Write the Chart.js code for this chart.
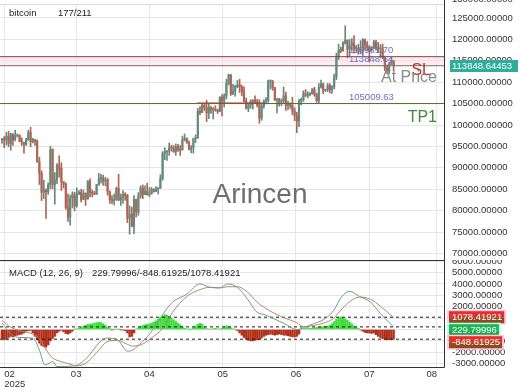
<!DOCTYPE html>
<html>
<head>
<meta charset="utf-8">
<script src="https://cdn.jsdelivr.net/npm/chart.js"></script>
<style>
html, body { margin: 0; padding: 0; background: #fff; overflow: hidden; }
#wrap { position: relative; width: 520px; height: 390px; }
canvas { position: absolute; left: 0; }
#main { top: 0; }
#macd { top: 260px; }
</style>
</head>
<body>
<div id="wrap">
  <canvas id="main" width="520" height="260"></canvas>
  <canvas id="macd" width="520" height="130"></canvas>
</div>
<script>
// daily candles, USD thousands (first candle = index 0)
const opens = [
  96.5, 96.6, 96.5, 97.4, 95.7, 97.8, 96.6, 97.5, 97.6, 96.1,
  95.8, 95.5, 96.6, 98.3, 96.1, 96.6, 96.3, 91.4, 88.7, 84.3,
  84.7, 84.4, 86.0, 94.3, 86.1, 87.2, 90.6, 89.9, 86.7, 86.2,
  80.7, 78.5, 82.9, 83.7, 81.1, 83.9, 84.3, 82.6, 84.1, 82.7,
  86.9, 84.2, 84.0, 83.8, 86.1, 87.5, 87.5, 86.9, 87.2, 84.4,
  82.6, 82.3, 82.5, 85.2, 82.5, 83.1, 83.8, 83.5, 78.2, 79.2,
  76.3, 82.6, 79.6, 83.4, 85.3, 83.7, 84.5, 83.7, 84.0, 84.9,
  84.5, 85.1, 85.2, 87.5, 93.4, 93.7, 93.9, 94.7, 94.6, 93.8,
  95.0, 94.3, 94.2, 96.5, 96.9, 95.9, 94.3, 94.7, 96.8, 97.0,
  103.2, 102.9, 104.6, 104.1, 102.8, 104.1, 103.5, 103.7, 103.5, 103.2,
  106.5, 105.6, 106.8, 109.7, 111.7, 107.3, 107.8, 109.0, 109.4, 108.9,
  107.8, 105.6, 103.9, 104.6, 105.6, 105.8, 105.4, 104.7, 101.6, 104.4,
  105.6, 105.7, 110.3, 110.3, 108.7, 105.9, 106.1, 105.4, 105.6, 106.8,
  104.6, 104.9, 104.6, 103.3, 102.2, 100.9, 105.6, 106.0, 107.3, 106.9,
  107.1, 107.3, 108.4, 107.1, 105.7, 108.8, 109.6, 108.0, 108.2, 109.2,
  108.3, 108.9, 111.3, 115.9, 117.5, 117.4, 119.1, 119.8, 117.7, 118.6,
  119.2, 117.9, 117.9, 117.3, 117.4, 119.9, 118.8, 118.4, 117.6, 117.9,
  119.4, 118.0, 117.8, 117.8, 115.8, 113.3, 112.5, 114.2, 115.0
];
const highs = [
  96.9, 97.3, 98.3, 98.5, 98.1, 98.0, 98.8, 97.9, 97.7, 97.0,
  96.0, 96.9, 98.8, 99.5, 96.9, 96.6, 96.5, 92.5, 89.3, 87.1,
  85.1, 86.5, 95.0, 94.4, 88.9, 91.0, 92.8, 91.2, 86.8, 86.5,
  83.9, 83.6, 84.4, 84.3, 85.3, 84.7, 85.0, 84.8, 84.1, 87.0,
  87.4, 84.8, 84.5, 86.1, 88.7, 88.5, 88.3, 87.8, 87.5, 84.6,
  83.5, 83.9, 85.5, 88.5, 83.9, 84.7, 84.2, 83.8, 81.1, 80.8,
  83.5, 82.7, 84.2, 85.8, 86.0, 85.8, 86.4, 85.4, 85.4, 85.1,
  85.6, 85.3, 88.4, 93.8, 94.7, 94.0, 95.8, 95.3, 95.2, 95.6,
  95.5, 95.2, 97.4, 97.9, 97.0, 96.3, 95.2, 96.9, 97.7, 103.9,
  104.3, 104.9, 104.9, 105.8, 104.9, 104.3, 104.1, 104.5, 103.7, 106.6,
  107.1, 107.3, 110.7, 111.9, 111.8, 109.5, 109.3, 110.4, 110.7, 109.3,
  108.9, 106.3, 104.9, 105.9, 105.9, 106.8, 106.0, 105.9, 105.0, 105.9,
  106.4, 110.5, 110.4, 110.4, 108.8, 106.2, 106.2, 106.1, 108.9, 107.7,
  105.6, 105.2, 106.5, 104.0, 103.0, 106.0, 106.3, 108.0, 108.3, 107.8,
  107.6, 108.5, 108.8, 107.5, 109.7, 110.5, 109.8, 108.4, 109.7, 109.7,
  109.2, 111.9, 116.8, 118.9, 118.2, 119.5, 123.2, 119.9, 120.0, 120.2,
  120.9, 118.6, 118.9, 119.7, 120.2, 120.1, 119.5, 118.5, 118.3, 119.8,
  119.8, 119.3, 118.8, 118.9, 116.1, 114.0, 114.7, 115.7, 115.1
];
const lows = [
  95.7, 94.7, 95.3, 94.9, 94.1, 95.2, 96.3, 97.2, 96.1, 95.2,
  93.4, 95.2, 96.4, 94.9, 95.8, 95.2, 91.3, 86.1, 82.3, 82.8,
  78.2, 83.8, 85.1, 85.1, 81.5, 86.3, 87.8, 84.7, 85.3, 80.3,
  77.5, 76.6, 80.6, 79.9, 80.8, 83.7, 82.0, 82.5, 81.2, 82.7,
  83.2, 83.2, 83.7, 83.8, 85.9, 86.4, 85.9, 85.8, 83.6, 81.7,
  81.6, 81.3, 82.4, 82.3, 81.2, 81.7, 82.4, 77.2, 74.5, 76.2,
  74.6, 78.5, 78.9, 82.9, 82.8, 83.7, 83.6, 83.2, 83.8, 84.3,
  84.4, 83.9, 85.2, 87.1, 91.9, 91.7, 92.9, 93.9, 93.6, 92.9,
  93.8, 92.9, 94.1, 96.3, 95.7, 94.2, 93.5, 93.4, 95.9, 96.9,
  102.4, 102.9, 103.4, 100.8, 101.5, 102.7, 101.4, 103.2, 102.7, 103.1,
  102.1, 104.2, 106.1, 109.3, 106.9, 107.1, 106.7, 108.7, 107.6, 106.8,
  105.4, 103.7, 103.1, 103.9, 103.7, 105.0, 104.2, 100.4, 101.1, 103.9,
  104.9, 105.3, 108.4, 108.1, 105.7, 102.8, 104.4, 104.5, 105.0, 103.4,
  103.6, 103.9, 102.4, 101.0, 98.2, 99.6, 104.7, 105.5, 106.6, 106.3,
  106.8, 107.2, 106.7, 105.3, 105.1, 108.6, 107.3, 107.8, 107.8, 107.5,
  107.4, 108.4, 110.6, 115.3, 116.9, 117.2, 118.9, 115.7, 116.0, 117.5,
  116.8, 117.3, 116.5, 116.6, 116.2, 117.4, 117.3, 114.7, 117.2, 117.9,
  117.5, 116.9, 115.8, 115.5, 112.7, 112.0, 112.0, 114.1, 112.6
];
const closes = [
  96.6, 96.5, 97.4, 95.7, 97.8, 96.6, 97.5, 97.6, 96.1, 95.8,
  95.5, 96.6, 98.3, 96.1, 96.6, 96.3, 91.4, 88.7, 84.3, 84.7,
  84.4, 86.0, 94.3, 86.1, 87.2, 90.6, 89.9, 86.7, 86.2, 80.7,
  78.5, 82.9, 83.7, 81.1, 83.9, 84.3, 82.6, 84.1, 82.7, 86.9,
  84.2, 84.0, 83.8, 86.1, 87.5, 87.5, 86.9, 87.2, 84.4, 82.6,
  82.3, 82.5, 85.2, 82.5, 83.1, 83.8, 83.5, 78.2, 79.2, 76.3,
  82.6, 79.6, 83.4, 85.3, 83.7, 84.5, 83.7, 84.0, 84.9, 84.5,
  85.1, 85.2, 87.5, 93.4, 93.7, 93.9, 94.7, 94.6, 93.8, 95.0,
  94.3, 94.2, 96.5, 96.9, 95.9, 94.3, 94.7, 96.8, 97.0, 103.2,
  102.9, 104.6, 104.1, 102.8, 104.1, 103.5, 103.7, 103.5, 103.2, 106.5,
  105.6, 106.8, 109.7, 111.7, 107.3, 107.8, 109.0, 109.4, 108.9, 107.8,
  105.6, 103.9, 104.6, 105.6, 105.8, 105.4, 104.7, 101.6, 104.4, 105.6,
  105.7, 110.3, 110.3, 108.7, 105.9, 106.1, 105.4, 105.6, 106.8, 104.6,
  104.9, 104.6, 103.3, 102.2, 100.9, 105.6, 106.0, 107.3, 106.9, 107.1,
  107.3, 108.4, 107.1, 105.7, 108.8, 109.6, 108.0, 108.2, 109.2, 108.3,
  108.9, 111.3, 115.9, 117.5, 117.4, 119.1, 119.8, 117.7, 118.6, 119.2,
  117.9, 117.9, 117.3, 117.4, 119.9, 118.8, 118.4, 117.6, 117.9, 119.4,
  118.0, 117.8, 117.8, 115.8, 113.3, 112.5, 114.2, 115.0, 113.85
];

// MACD(12,26,9) lines, read at these candle indexes
const macdIdx = [0, 4, 8, 14, 17, 19.5, 22, 23, 25, 28.5, 32, 34, 38.5, 44.5, 47.5, 52.5, 57, 59.5, 62.5, 67.5,
  73, 77.5, 84, 90, 94.5, 99, 102.5, 107, 111.5, 116, 119.5, 124, 128.5, 134, 137, 141.5, 146, 150.5, 154.5, 158,
  162.5, 167.5, 172, 176.5, 178];
const macdVals = [600, -400, -700, -750, -1800, -3100, -2900, -2800, -3250, -3250, -3200, -3150, -2500, -1100, -750, -900, -1900, -1800, -1300, -300,
  1300, 2400, 3100, 4000, 3700, 3650, 4000, 3700, 2700, 1500, 1300, 900, 500, 0, 150, 500, 850, 1600, 2900, 3350,
  2900, 2400, 1400, 500, 229.79996];
const signalVals = [800, 200, -100, -400, -800, -1600, -2300, -2500, -2700, -2900, -3100, -3200, -2900, -1700, -1100, -950, -1300, -1450, -1400, -800,
  100, 1500, 2900, 3500, 3700, 3650, 3750, 3750, 3300, 2400, 1900, 1400, 1000, 600, 250, 350, 550, 950, 1800, 2450,
  2850, 2650, 2050, 1300, 1078.41921];
// histogram, one per candle
const histVals = [
  -800, -900, -850, -700, -600, -650, -550, -500, -450, -400, -300,
  -150, -100, -80,
  -300, -600, -900, -1200, -1400, -1500, -1550, -1350, -1000, -800, -600,
  -300, -150, -60,
  -200, -350, -400, -300, -150,
  20,
  50, 100, 200, 300, 350, 450, 450, 500, 550, 600, 650, 600, 500, 350, 200, 80,
  -20, 20, 30, 10, -20, -40, -100,
  -300, -650, -600, -300,
  50, 150, 250, 350, 400, 450, 500, 550, 650, 750, 900, 1050, 1200, 1300, 1250, 1150, 1000, 850, 700, 550, 400, 250, 100,
  30, 10, 20,
  150, 300, 450, 550, 450, 250,
  80, 40, 20, 60, 100, 50, 30, 100, 200, 330, 250, 150, 60, 10,
  -100, -300, -500, -700, -850, -950, -1000, -1000, -950, -900, -850, -750,
  -600, -500, -450, -400, -450, -500, -450, -400, -450, -500, -500, -550, -600, -650, -650, -600, -400,
  30, 80, 100, 80, 100,
  120, 150, 180, 200, 220, 250, 280, 300, 350, 500, 700, 900, 1050, 1100, 1050, 950, 800, 650, 500, 300, 200, 100,
  -50, -150, -250, -300, -300, -350, -300, -450, -600, -700, -800, -850, -900, -900, -880, -848.61925
];

const monthTicks = [1.0, 33.7, 67, 100.3, 133.6, 166.9, 197.7];
const monthLabels = [['02', '2025'], '03', '04', '05', '06', '07', '08'];
const priceTicks = [70000, 75000, 80000, 85000, 90000, 95000, 100000, 105000, 110000, 115000, 120000, 125000];
const macdTicks = [-3000, -2000, -1000, 0, 1000, 2000, 3000, 4000, 5000, 6000];

const slPrice = 115961.70;
const atPrice = 113848.64453;
const tp1Price = 105009.63;
const redLevel = 105150;
const redFrom = 88.7, redTo = 119.5;
const macdLast = 229.79996, histLast = -848.61925, signalLast = 1078.41921;

const xMin = -0.9, xMax = 200.9;
const FONT = '"Liberation Sans", Arial, sans-serif';
const upColor = '#648a80';
const downColor = '#ad6555';

Chart.defaults.font.family = FONT;
Chart.defaults.font.size = 9.5;
Chart.defaults.color = '#333';

const candleCol = closes.map((c, i) => c >= opens[i] ? upColor : downColor);

function hLine(y, color, extra) {
  return Object.assign({
    type: 'line',
    data: [{ x: xMin, y: y }, { x: xMax, y: y }],
    borderColor: color, borderWidth: 1, pointRadius: 0, fill: false
  }, extra || {});
}

function monthAxis(showLabels) {
  return {
    type: 'linear', min: xMin, max: xMax, offset: false,
    grid: { color: '#e7e7e7', drawTicks: false, offset: false },
    border: { display: false },
    ticks: {
      display: showLabels, align: 'inner', maxRotation: 0, autoSkip: false, padding: 3,
      font: { size: 9.5, lineHeight: 1 }, color: '#333',
      callback: (v, i) => monthLabels[i]
    },
    afterBuildTicks: s => { s.ticks = monthTicks.map(v => ({ value: v })); },
    afterFit: s => { s.height = showLabels ? 23 : 0; s.paddingLeft = 0; s.paddingRight = 0; }
  };
}

function valueAxis(min, max, tickValues) {
  return {
    position: 'right', min: min, max: max, beginAtZero: false,
    grid: { color: '#e6e6e6', drawTicks: false },
    border: { display: false },
    ticks: { padding: 8, color: '#333', autoSkip: false, callback: v => v.toFixed(5) },
    afterBuildTicks: s => { s.ticks = tickValues.map(v => ({ value: v })); },
    afterFit: s => { s.width = 76; s.paddingTop = 0; s.paddingBottom = 0; }
  };
}

const mainOverlay = {
  id: 'mainOverlay',
  beforeDatasetsDraw(chart) {
    const ctx = chart.ctx;
    ctx.save();
    ctx.strokeStyle = '#dcdcdc';
    ctx.beginPath(); ctx.moveTo(0, 4.5); ctx.lineTo(444, 4.5); ctx.stroke();
    ctx.font = '28px ' + FONT;
    ctx.fillStyle = '#6e6e6e';
    ctx.textAlign = 'center'; ctx.textBaseline = 'alphabetic';
    ctx.fillText('Arincen', 260, 203);
    ctx.restore();
  },
  afterDraw(chart) {
    const ctx = chart.ctx, y = chart.scales.y;
    const slY = y.getPixelForValue(slPrice), atY = y.getPixelForValue(atPrice), tpY = y.getPixelForValue(tp1Price);
    ctx.save();
    ctx.strokeStyle = '#333';
    ctx.beginPath(); ctx.moveTo(444.5, 0); ctx.lineTo(444.5, 260); ctx.stroke();

    ctx.font = '9.5px ' + FONT;
    ctx.fillStyle = '#222'; ctx.textAlign = 'left'; ctx.textBaseline = 'middle';
    ctx.fillText('bitcoin', 9, 13);
    ctx.fillText('177/211', 58, 13);
    ctx.fillStyle = '#333';
    ctx.fillText('130000.00000', 452, -0.5);

    ctx.fillStyle = '#6f6fc9';
    ctx.fillText(slPrice.toFixed(2), 349, slY - 6.5);
    ctx.fillText(atPrice.toFixed(2), 349, atY - 6.5);
    ctx.fillText(tp1Price.toFixed(2), 349, tpY - 6.5);

    ctx.font = '16px ' + FONT;
    ctx.textAlign = 'right'; ctx.textBaseline = 'alphabetic';
    ctx.fillStyle = '#b3372b'; ctx.fillText('SL', 431, slY + 18.3);
    ctx.fillStyle = '#8a8a8a'; ctx.fillText('At Price', 437, atY + 16.7);
    ctx.fillStyle = '#3d8c3d'; ctx.fillText('TP1', 437, tpY + 18.8);

    ctx.fillStyle = '#2eae98';
    ctx.fillRect(450, Math.round(atY) - 6, 68, 12);
    ctx.font = '9.5px ' + FONT;
    ctx.fillStyle = '#fff'; ctx.textAlign = 'left'; ctx.textBaseline = 'middle';
    ctx.fillText(atPrice.toFixed(5), 452, Math.round(atY) + 0.5);
    ctx.restore();
  }
};

new Chart(document.getElementById('main'), {
  type: 'bar',
  data: {
    datasets: [
      hLine(slPrice, 'rgba(0,0,0,0)', { fill: { value: atPrice }, backgroundColor: 'rgba(252,220,231,0.5)', borderWidth: 0, order: 20 }),
      {
        data: closes.map((c, i) => ({ x: i, y: [lows[i] * 1000, highs[i] * 1000] })),
        backgroundColor: candleCol, barThickness: 1, grouped: false, order: 10
      },
      {
        data: closes.map((c, i) => ({ x: i, y: [opens[i] * 1000, c * 1000] })),
        backgroundColor: candleCol, barThickness: 1.5, minBarLength: 1, grouped: false, order: 9
      },
      hLine(slPrice, '#8d3f30', { order: 3 }),
      hLine(atPrice, '#7f6a60', { order: 3 }),
      hLine(tp1Price, '#506c2c', { order: 3 }),
      { type: 'line', data: [{ x: redFrom, y: redLevel }, { x: redTo, y: redLevel }], borderColor: '#c23a30', borderWidth: 1, pointRadius: 0, order: 2 }
    ]
  },
  options: {
    responsive: false, animation: false, devicePixelRatio: 1, events: [],
    layout: { padding: { top: 4, left: 0, right: 0, bottom: 0 } },
    plugins: { legend: { display: false }, tooltip: { enabled: false } },
    scales: {
      x: monthAxis(false),
      y: valueAxis(68458, 128271, priceTicks)
    }
  },
  plugins: [mainOverlay]
});

function valueBox(ctx, text, y, top, bottom, halo) {
  ctx.font = '9.5px ' + FONT;
  const w = ctx.measureText(text).width + 5;
  const x = 449, h = 12;
  ctx.fillStyle = halo;
  ctx.fillRect(x - 2, y - h / 2 - 1.5, w + 4, h + 3);
  ctx.fillStyle = top; ctx.fillRect(x, y - h / 2, w, h / 2);
  ctx.fillStyle = bottom; ctx.fillRect(x, y, w, h / 2);
  ctx.fillStyle = '#fff'; ctx.textAlign = 'left'; ctx.textBaseline = 'middle';
  ctx.fillText(text, x + 3, y + 0.5);
}

const macdOverlay = {
  id: 'macdOverlay',
  afterDraw(chart) {
    const ctx = chart.ctx, y = chart.scales.y;
    ctx.save();
    ctx.strokeStyle = '#333';
    ctx.beginPath();
    ctx.moveTo(0, 0.5); ctx.lineTo(444.5, 0.5);
    ctx.moveTo(444.5, 0); ctx.lineTo(444.5, 107.5);
    ctx.moveTo(0, 107.5); ctx.lineTo(444.5, 107.5);
    ctx.stroke();

    ctx.font = '9.5px ' + FONT;
    ctx.fillStyle = '#222'; ctx.textAlign = 'left'; ctx.textBaseline = 'middle';
    ctx.fillText('MACD (12, 26, 9)', 9, 13);
    ctx.fillText(macdLast.toFixed(5) + '/' + histLast.toFixed(5) + '/' + signalLast.toFixed(5), 92, 13);

    const b1 = y.getPixelForValue(signalLast);
    const b2 = Math.max(y.getPixelForValue(macdLast), b1 + 13);
    const b3 = Math.max(y.getPixelForValue(histLast), b2 + 12);
    valueBox(ctx, signalLast.toFixed(5), b1, '#e2302a', '#8e4a1c', '#ffc6e2');
    valueBox(ctx, macdLast.toFixed(5), b2, '#1fb556', '#1aa54c', '#b8fff0');
    valueBox(ctx, histLast.toFixed(5), b3, '#e2302a', '#8e4a1c', '#ffc6e2');
    ctx.restore();
  }
};

const histData = histVals.map((v, i) => ({ x: i, y: v }));

new Chart(document.getElementById('macd'), {
  type: 'bar',
  data: {
    datasets: [
      {
        type: 'line', data: macdIdx.map((x, k) => ({ x: x, y: macdVals[k] })),
        borderColor: '#6f9c8c', borderWidth: 1, pointRadius: 0, cubicInterpolationMode: 'monotone', order: 1
      },
      {
        type: 'line', data: macdIdx.map((x, k) => ({ x: x, y: signalVals[k] })),
        borderColor: '#b8866a', borderWidth: 1, pointRadius: 0, cubicInterpolationMode: 'monotone', order: 2
      },
      hLine(signalLast, '#1a1a1a', { borderDash: [3, 3], order: 3 }),
      hLine(macdLast, '#1a1a1a', { borderDash: [3, 3], order: 3 }),
      hLine(histLast, '#1a1a1a', { borderDash: [3, 3], order: 3 }),
      {
        data: histData, backgroundColor: histVals.map(v => v >= 0 ? '#3fdc3a' : '#b0301a'),
        barThickness: 1.6, grouped: false, order: 5
      },
      {
        data: histData, backgroundColor: histVals.map(v => v >= 0 ? '#c9fbe9' : '#ffd3e3'),
        borderColor: histVals.map(v => v >= 0 ? '#c9fbe9' : '#ffd3e3'), borderWidth: 1, borderSkipped: false,
        barThickness: 3.6, grouped: false, order: 6
      }
    ]
  },
  options: {
    responsive: false, animation: false, devicePixelRatio: 1, events: [],
    layout: { padding: { top: 1, left: 0, right: 0, bottom: 0 } },
    plugins: { legend: { display: false }, tooltip: { enabled: false } },
    scales: {
      x: monthAxis(true),
      y: valueAxis(-3289, 6009, macdTicks)
    }
  },
  plugins: [macdOverlay]
});
</script>
</body>
</html>
